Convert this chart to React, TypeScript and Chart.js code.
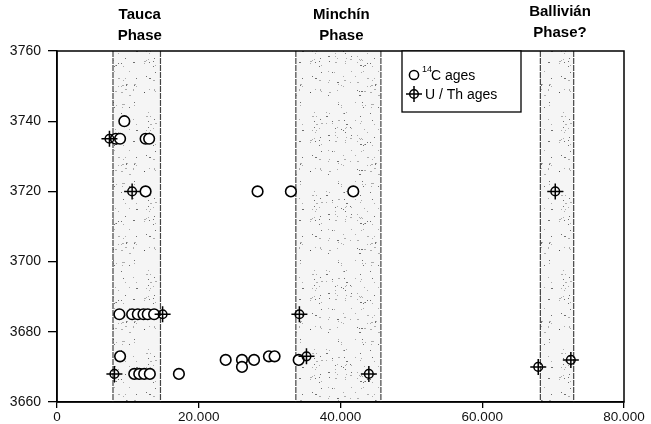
import React, { useEffect, useRef } from "react";
import { Chart, registerables } from "chart.js";
Chart.register(...registerables);

// 14C ages (years BP) and elevations (m)
const c14Age = [9500, 8300, 8900, 12500, 13000, 12500, 28300, 33000, 41800, 8800, 10600, 11400, 12200, 12800, 13700, 8900, 10900, 11600, 12300, 13100, 17200, 23800, 26100, 26100, 27800, 29900, 30700, 34100];
const c14Elev = [3740, 3735, 3735, 3735, 3735, 3720, 3720, 3720, 3720, 3685, 3685, 3685, 3685, 3685, 3685, 3673, 3668, 3668, 3668, 3668, 3668, 3672, 3672, 3670, 3672, 3673, 3673, 3672];

// U/Th ages
const uthAge = [7400, 10600, 70300, 14900, 34200, 8100, 44000, 35200, 67900, 72500];
const uthElev = [3735, 3720, 3720, 3685, 3685, 3668, 3668, 3673, 3670, 3672];

// Lake phases
const phaseLine1 = ["Tauca", "Minchín", "Ballivián"];
const phaseLine2 = ["Phase", "Phase", "Phase?"];
const phaseStart = [7900, 33700, 68200];
const phaseEnd = [14600, 45700, 72900];
const phaseLabelDy = [0, 0, -3];

const xTicks = [0, 20000, 40000, 60000, 80000];
const yTicks = [3660, 3680, 3700, 3720, 3740, 3760];

const FONT = "'Liberation Sans', Arial, Helvetica, sans-serif";

function drawCross(g: CanvasRenderingContext2D, cx: number, cy: number) {
  g.save();
  g.strokeStyle = "#000";
  g.lineWidth = 1.5;
  g.beginPath();
  g.arc(cx, cy, 4.3, 0, Math.PI * 2);
  g.stroke();
  g.beginPath();
  g.moveTo(cx - 8, cy);
  g.lineTo(cx + 8, cy);
  g.moveTo(cx, cy - 8);
  g.lineTo(cx, cy + 8);
  g.stroke();
  g.restore();
}

function makeStipple(ctx: CanvasRenderingContext2D): CanvasPattern | string {
  const W = 83, H = 79;
  const c = document.createElement("canvas");
  c.width = W;
  c.height = H;
  const g = c.getContext("2d")!;
  g.fillStyle = "rgba(0,0,0,0.04)";
  g.fillRect(0, 0, W, H);
  for (let i = 0; i < 150; i++) {
    const px = (i * i * 31 + i * 17 + 5) % W;
    const py = (i * i * 13 + i * 29 + 3) % H;
    g.fillStyle = i % 3 === 0 ? "rgba(0,0,0,0.55)" : "rgba(0,0,0,0.3)";
    g.fillRect(px, py, i % 5 === 0 ? 2 : 1, 1);
  }
  return ctx.createPattern(c, "repeat") || "#eee";
}

export default function App() {
  const ref = useRef<HTMLCanvasElement | null>(null);

  useEffect(() => {
    document.body.style.margin = "0";
    const canvas = ref.current!;
    const ctx0 = canvas.getContext("2d")!;
    const stipple = makeStipple(ctx0);

    const plugin = {
      id: "phases",
      beforeDatasetsDraw(chart: any) {
        const { ctx, chartArea: a, scales } = chart;
        const x = scales.x;
        ctx.save();
        phaseStart.forEach((s, i) => {
          const x1 = x.getPixelForValue(s);
          const x2 = x.getPixelForValue(phaseEnd[i]);
          ctx.fillStyle = stipple;
          ctx.fillRect(x1, a.top, x2 - x1, a.bottom - a.top);
          ctx.strokeStyle = "#444";
          ctx.lineWidth = 1.2;
          ctx.setLineDash([6, 1]);
          ctx.beginPath();
          ctx.moveTo(x1, a.top);
          ctx.lineTo(x1, a.bottom);
          ctx.moveTo(x2, a.top);
          ctx.lineTo(x2, a.bottom);
          ctx.stroke();
        });
        ctx.restore();
      },
      afterDatasetsDraw(chart: any) {
        const meta = chart.getDatasetMeta(1);
        meta.data.forEach((el: any) => drawCross(chart.ctx, el.x, el.y));
      },
      afterDraw(chart: any) {
        const { ctx, chartArea: a, scales } = chart;
        const x = scales.x;
        ctx.save();
        // frame
        ctx.strokeStyle = "#000";
        ctx.lineWidth = 1.5;
        ctx.strokeRect(a.left, a.top, a.right - a.left, a.bottom - a.top);
        // phase labels
        ctx.fillStyle = "#000";
        ctx.font = `bold 15px ${FONT}`;
        ctx.textAlign = "center";
        ctx.textBaseline = "alphabetic";
        phaseStart.forEach((s, i) => {
          const cx = (x.getPixelForValue(s) + x.getPixelForValue(phaseEnd[i])) / 2 + 3;
          ctx.fillText(phaseLine1[i], cx, 19 + phaseLabelDy[i]);
          ctx.fillText(phaseLine2[i], cx, 40 + phaseLabelDy[i]);
        });
        // legend
        const lx = 402, ly = a.top, lw = 119, lh = 61;
        ctx.fillStyle = "#fff";
        ctx.fillRect(lx, ly, lw, lh);
        ctx.strokeStyle = "#000";
        ctx.lineWidth = 1.3;
        ctx.strokeRect(lx, ly, lw, lh);
        ctx.beginPath();
        ctx.arc(414, 75, 4.6, 0, Math.PI * 2);
        ctx.lineWidth = 1.5;
        ctx.stroke();
        drawCross(ctx, 414, 94);
        ctx.fillStyle = "#000";
        ctx.textAlign = "left";
        ctx.font = `9px ${FONT}`;
        ctx.fillText("14", 422, 72);
        ctx.font = `14px ${FONT}`;
        ctx.fillText("C ages", 431, 80);
        ctx.fillText("U / Th ages", 425, 99);
        ctx.restore();
      },
    };

    const chart = new Chart(canvas, {
      type: "scatter",
      data: {
        datasets: [
          {
            label: "14C ages",
            data: c14Age.map((v, i) => ({ x: v, y: c14Elev[i] })),
            pointStyle: "circle",
            pointRadius: 5.3,
            pointBorderWidth: 1.6,
            pointBorderColor: "#000",
            pointBackgroundColor: "#fff",
          },
          {
            label: "U / Th ages",
            data: uthAge.map((v, i) => ({ x: v, y: uthElev[i] })),
            pointRadius: 0,
            pointHoverRadius: 0,
          },
        ],
      },
      plugins: [plugin],
      options: {
        responsive: false,
        animation: false,
        devicePixelRatio: 1,
        layout: { padding: { top: 51, right: 27, left: 0, bottom: 0 } },
        plugins: {
          legend: { display: false },
          tooltip: { enabled: false },
        },
        scales: {
          x: {
            type: "linear",
            min: 0,
            max: 80000,
            afterBuildTicks: (s: any) => {
              s.ticks = xTicks.map((v) => ({ value: v }));
            },
            afterFit: (s: any) => {
              s.height = 22;
            },
            grid: {
              display: true,
              drawOnChartArea: false,
              drawTicks: true,
              tickLength: 6,
              color: "#000",
              lineWidth: 1.3,
            },
            border: { display: true, color: "#000", width: 1.5 },
            ticks: {
              padding: 1,
              color: "#111",
              font: { family: FONT, size: 13.5 },
              maxRotation: 0,
              callback: (v: any) => (v === 0 ? "0" : `${Number(v) / 1000}.000`),
            },
          },
          y: {
            type: "linear",
            min: 3660,
            max: 3760,
            afterBuildTicks: (s: any) => {
              s.ticks = yTicks.map((v) => ({ value: v }));
            },
            afterFit: (s: any) => {
              s.width = 57;
            },
            grid: {
              display: true,
              drawOnChartArea: false,
              drawTicks: true,
              tickLength: 9,
              color: "#000",
              lineWidth: 1.3,
            },
            border: { display: true, color: "#000", width: 1.5 },
            ticks: {
              padding: 7,
              color: "#111",
              font: { family: FONT, size: 14 },
              callback: (v: any) => String(v),
            },
          },
        },
      },
    });
    return () => chart.destroy();
  }, []);

  return (
    <div style={{ width: 651, height: 424, background: "#fff" }}>
      <canvas ref={ref} width={651} height={424} style={{ display: "block" }} />
    </div>
  );
}
